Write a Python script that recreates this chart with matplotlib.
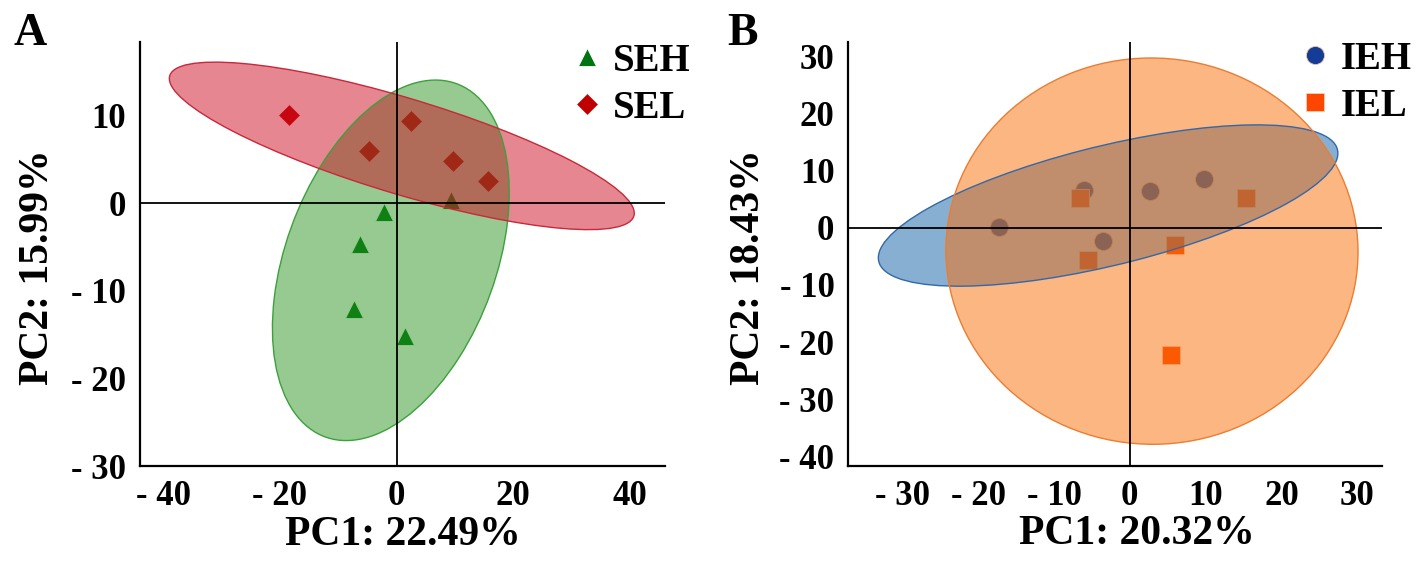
import matplotlib
matplotlib.use("Agg")
import matplotlib.pyplot as plt
import numpy as np
from matplotlib.patches import Ellipse

# Data
seh_x = [9.4, -2.2, -6.3, -7.3, 1.4]
seh_y = [0.4, -1.0, -4.7, -12.1, -15.2]
sel_x = [-18.5, 2.4, -4.8, 9.6, 15.7]
sel_y = [10.1, 9.4, 5.9, 4.8, 2.5]

ieh_x = [-17.2, -6.1, 2.7, 9.8, -3.5]
ieh_y = [0.1, 6.6, 6.4, 8.6, -2.3]
iel_x = [-6.5, 15.3, 5.9, -5.5, 5.4]
iel_y = [5.2, 5.2, -3.0, -5.6, -22.3]

xticks_a = [-40, -20, 0, 20, 40]
yticks_a = [10, 0, -10, -20, -30]
xticks_b = [-30, -20, -10, 0, 10, 20, 30]
yticks_b = [30, 20, 10, 0, -10, -20, -30, -40]

plt.rcParams['font.family'] = ['Liberation Serif', 'DejaVu Serif']
plt.rcParams['font.weight'] = 'bold'


def fmt(v):
    return f"- {abs(v)}" if v < 0 else str(v)


def conf_ellipse(ax, x, y, face, edge, alpha, n_std=3.0):
    x = np.asarray(x)
    y = np.asarray(y)
    cov = np.cov(x, y)
    vals, vecs = np.linalg.eigh(cov)
    order = vals.argsort()[::-1]
    vals, vecs = vals[order], vecs[:, order]
    angle = np.degrees(np.arctan2(vecs[1, 0], vecs[0, 0]))
    w, h = 2 * n_std * np.sqrt(vals)
    ax.add_patch(Ellipse((x.mean(), y.mean()), w, h, angle=angle,
                         facecolor=face, alpha=alpha, edgecolor='none', zorder=3))
    ax.add_patch(Ellipse((x.mean(), y.mean()), w, h, angle=angle,
                         facecolor='none', edgecolor=edge, lw=1.0, zorder=3.5))


def style_axes(ax, xt, yt, xlim, ylim):
    ax.set_xlim(*xlim)
    ax.set_ylim(*ylim)
    for s in ['top', 'right']:
        ax.spines[s].set_visible(False)
    for s in ['left', 'bottom']:
        ax.spines[s].set_linewidth(1.6)
    ax.set_xticks(xt)
    ax.set_xticklabels([fmt(v) for v in xt])
    ax.set_yticks(yt)
    ax.set_yticklabels([fmt(v) for v in yt])
    ax.tick_params(length=0, labelsize=25, pad=10)
    for lab in ax.get_xticklabels() + ax.get_yticklabels():
        lab.set_fontweight('bold')
    ax.axhline(0, color='black', lw=1.3, zorder=5)
    ax.axvline(0, color='black', lw=1.3, zorder=5)


fig = plt.figure(figsize=(14.17, 5.65), dpi=100)

# Panel A
ax1 = fig.add_axes([0.0988, 0.1752, 0.3705, 0.7505])
ax1.plot(seh_x, seh_y, ls='none', marker='^', ms=13, color='#007312',
         mec='white', mew=0.6, label='SEH', zorder=2)
ax1.plot(sel_x, sel_y, ls='none', marker='D', ms=11, color='#C00000',
         mec='white', mew=0.6, label='SEL', zorder=2)
conf_ellipse(ax1, seh_x, seh_y, '#209016', '#3CA03C', 0.47)
conf_ellipse(ax1, sel_x, sel_y, '#CD0F23', '#C8283A', 0.5)
style_axes(ax1, xticks_a, yticks_a, (-44, 46), (-30, 18.4))
ax1.set_xlabel('PC1: 22.49%', fontsize=30, fontweight='bold', labelpad=2)
ax1.set_ylabel('PC2: 15.99%', fontsize=30, fontweight='bold', labelpad=10)
ax1.yaxis.label.set_y(0.47)
ax1.legend(loc='upper right', bbox_to_anchor=(1.115, 1.08), frameon=False,
           handletextpad=0.15, labelspacing=0.25, handlelength=1.0,
           prop={'weight': 'bold', 'size': 28})

# Panel B
ax2 = fig.add_axes([0.5987, 0.1752, 0.3769, 0.7505])
ax2.plot(ieh_x, ieh_y, ls='none', marker='o', ms=13, color='#143C96',
         mec='#F0C8A0', mew=0.6, label='IEH', zorder=2)
ax2.plot(iel_x, iel_y, ls='none', marker='s', ms=13, color='#FF4600',
         mec='#F8D0B0', mew=0.6, label='IEL', zorder=2)
conf_ellipse(ax2, ieh_x, ieh_y, '#256EAD', '#3268A8', 0.55)
conf_ellipse(ax2, iel_x, iel_y, '#F96F07', '#EB7D32', 0.5)
style_axes(ax2, xticks_b, yticks_b, (-37.1, 33.3), (-41.7, 32.5))
ax2.set_xlabel('PC1: 20.32%', fontsize=30, fontweight='bold', labelpad=2)
ax2.xaxis.set_label_coords(0.54, -0.115)
ax2.set_ylabel('PC2: 18.43%', fontsize=30, fontweight='bold', labelpad=8)
ax2.yaxis.label.set_y(0.47)
ax2.legend(loc='upper right', bbox_to_anchor=(1.12, 1.085), frameon=False,
           handletextpad=0.15, labelspacing=0.25, handlelength=1.0,
           prop={'weight': 'bold', 'size': 28})

fig.text(0.021, 0.94, 'A', fontsize=33, fontweight='bold', ha='center', va='center')
fig.text(0.524, 0.94, 'B', fontsize=33, fontweight='bold', ha='center', va='center')

fig.savefig('out.png', dpi=100)
